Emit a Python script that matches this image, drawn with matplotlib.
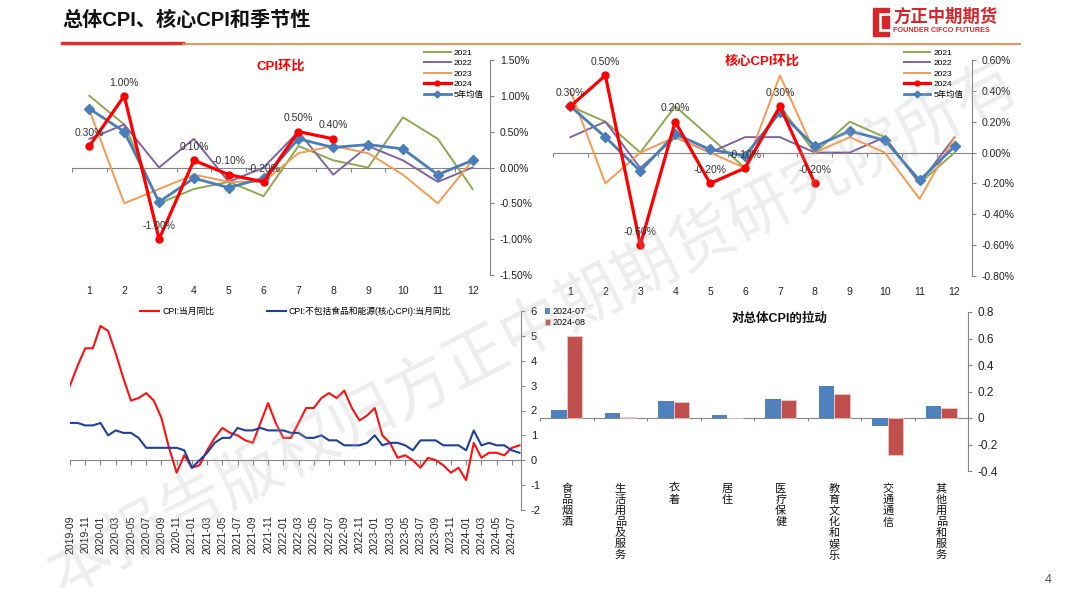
import numpy as np
import matplotlib
matplotlib.use("Agg")
import matplotlib.pyplot as plt
from matplotlib.ticker import FuncFormatter
from matplotlib.patches import Polygon
from matplotlib.lines import Line2D

plt.rcParams["font.family"] = ["Liberation Sans", "Noto Sans CJK SC", "DejaVu Sans"]
plt.rcParams["axes.unicode_minus"] = False

# ---------------- data ----------------
months = list(range(1, 13))

# CPI 环比 (%)
cpi_2021 = [1.0, 0.6, -0.5, -0.3, -0.2, -0.4, 0.3, 0.1, 0.0, 0.7, 0.4, -0.3]
cpi_2022 = [0.4, 0.6, 0.0, 0.4, -0.2, 0.0, 0.5, -0.1, 0.3, 0.1, -0.2, 0.0]
cpi_2023 = [0.8, -0.5, -0.3, -0.1, -0.2, -0.2, 0.2, 0.3, 0.2, -0.1, -0.5, 0.1]
cpi_2024 = [0.3, 1.0, -1.0, 0.1, -0.1, -0.2, 0.5, 0.4]
cpi_avg5 = [0.82, 0.5, -0.48, -0.15, -0.28, -0.15, 0.4, 0.28, 0.32, 0.26, -0.1, 0.1]

# 核心CPI 环比 (%)
core_2021 = [0.3, 0.2, 0.0, 0.3, 0.1, -0.1, 0.3, 0.0, 0.2, 0.1, -0.2, 0.0]
core_2022 = [0.1, 0.2, -0.1, 0.1, 0.0, 0.1, 0.1, 0.0, 0.0, 0.1, -0.2, 0.1]
core_2023 = [0.4, -0.2, 0.0, 0.1, 0.0, -0.1, 0.5, 0.0, 0.1, 0.0, -0.3, 0.1]
core_2024 = [0.3, 0.5, -0.6, 0.2, -0.2, -0.1, 0.3, -0.2]
core_avg5 = [0.3, 0.1, -0.12, 0.12, 0.02, -0.02, 0.26, 0.04, 0.14, 0.08, -0.18, 0.04]

# 当月同比, 2019-09 .. 2024-08
yoy_dates = [f"{y}-{m:02d}" for y in range(2019, 2025) for m in range(1, 13)
             if "2019-09" <= f"{y}-{m:02d}" <= "2024-08"]
cpi_yoy = [3.0, 3.8, 4.5, 4.5,
           5.4, 5.2, 4.3, 3.3, 2.4, 2.5, 2.7, 2.4, 1.7, 0.5, -0.5, 0.2,
           -0.3, -0.2, 0.4, 0.9, 1.3, 1.1, 1.0, 0.8, 0.7, 1.5, 2.3, 1.5,
           0.9, 0.9, 1.5, 2.1, 2.1, 2.5, 2.7, 2.5, 2.8, 2.1, 1.6, 1.8,
           2.1, 1.0, 0.7, 0.1, 0.2, 0.0, -0.3, 0.1, 0.0, -0.2, -0.5, -0.3,
           -0.8, 0.7, 0.1, 0.3, 0.3, 0.2, 0.5, 0.6]
core_yoy = [1.5, 1.5, 1.4, 1.4,
            1.5, 1.0, 1.2, 1.1, 1.1, 0.9, 0.5, 0.5, 0.5, 0.5, 0.5, 0.4,
            -0.3, 0.0, 0.3, 0.7, 0.9, 0.9, 1.3, 1.2, 1.2, 1.3, 1.2, 1.2,
            1.2, 1.1, 1.1, 0.9, 0.9, 1.0, 0.8, 0.8, 0.6, 0.6, 0.6, 0.7,
            1.0, 0.6, 0.7, 0.7, 0.6, 0.4, 0.8, 0.8, 0.8, 0.6, 0.6, 0.6,
            0.4, 1.2, 0.6, 0.7, 0.6, 0.6, 0.4, 0.3]

# 对总体CPI的拉动
pull_cats = ["食品烟酒", "生活用品及服务", "衣着", "居住", "医疗保健",
             "教育文化和娱乐", "交通通信", "其他用品和服务"]
pull_jul = [0.06, 0.035, 0.13, 0.02, 0.145, 0.24, -0.06, 0.09]
pull_aug = [0.62, 0.01, 0.12, 0.0, 0.135, 0.18, -0.28, 0.075]

# ---------------- figure ----------------
W, H = 1080, 608
fig = plt.figure(figsize=(W / 100, H / 100), dpi=100)
fig.patch.set_facecolor("white")


def add_ax(l, t, r, b):
    return fig.add_axes([l / W, 1 - b / H, (r - l) / W, (b - t) / H])


GRID = "#868686"
C21, C22, C23, C24, CAVG = "#8DAA4E", "#7F64A2", "#F79A50", "#FF0000", "#4A7EBB"


def style_right(ax):
    for s in ["left", "top", "bottom"]:
        ax.spines[s].set_visible(False)
    ax.spines["right"].set_color(GRID)
    ax.yaxis.tick_right()
    ax.tick_params(axis="y", colors="#222222", labelsize=7.5, length=3, color=GRID, pad=4)
    ax.tick_params(axis="x", length=0, labelsize=7.5, colors="#222222")


def zero_axis(ax, bounds, ymin, ymax):
    ax.axhline(0, color=GRID, lw=0.8, zorder=1)
    tl = (ymax - ymin) * 0.022
    ax.vlines(bounds, -tl, 0, color=GRID, lw=0.8, zorder=1)


def pct_fmt(v, p):
    v = round(v, 4)
    return f"{v + 0.0:.2f}%"


def season_chart(ax, d21, d22, d23, d24, davg, ymin, ymax, step, title, title_y, leg_anchor):
    ax.plot(months, d21, color=C21, lw=1.4, label="2021")
    ax.plot(months, d22, color=C22, lw=1.4, label="2022")
    ax.plot(months, d23, color=C23, lw=1.4, label="2023")
    ax.plot(months[:len(d24)], d24, color=C24, lw=2.3, marker="o", ms=5, label="2024", zorder=4)
    ax.plot(months, davg, color=CAVG, lw=2.0, marker="D", ms=5, label="5年均值", zorder=3)
    for m, v in zip(months, d24):
        ax.annotate(f"{v:.2f}%", (m, v), xytext=(0, 6), textcoords="offset points",
                    ha="center", va="bottom", fontsize=7.5, color="#333333", zorder=5)
    ax.set_xlim(0.5, 12.5)
    ax.set_ylim(ymin, ymax)
    ax.set_yticks(np.arange(ymin, ymax + step / 2, step))
    ax.yaxis.set_major_formatter(FuncFormatter(pct_fmt))
    ax.set_xticks(months)
    style_right(ax)
    ax.tick_params(axis="x", pad=8)
    zero_axis(ax, np.arange(0.5, 12.6, 1), ymin, ymax)
    ax.text(0.5, title_y, title, transform=ax.transAxes, ha="center", va="center",
            color="#FF0000", fontsize=9.5, fontweight="bold")
    ax.legend(loc="upper right", bbox_to_anchor=leg_anchor, frameon=False, fontsize=6,
              handlelength=3.2, labelspacing=0.3, borderpad=0, handletextpad=0.4,
              markerscale=0.7)


# chart 1: CPI 环比
ax1 = add_ax(72, 60, 490, 275)
season_chart(ax1, cpi_2021, cpi_2022, cpi_2023, cpi_2024, cpi_avg5,
             -1.5, 1.5, 0.5, "CPI环比", 0.97, (0.995, 1.07))

# chart 2: 核心CPI 环比
ax2 = add_ax(553, 60, 972, 276)
season_chart(ax2, core_2021, core_2022, core_2023, core_2024, core_avg5,
             -0.8, 0.6, 0.2, "核心CPI环比", 0.995, (0.99, 1.07))

# chart 3: 当月同比
ax3 = add_ax(70, 311, 521, 510)
x3 = np.arange(len(cpi_yoy))
ax3.plot(x3, cpi_yoy, color="#FF1010", lw=1.5, label="CPI:当月同比")
ax3.plot(x3, core_yoy, color="#1F3F9E", lw=1.5, label="CPI:不包括食品和能源(核心CPI):当月同比")
ax3.set_xlim(0, len(cpi_yoy) - 0.8)
ax3.set_ylim(-2, 6)
ax3.set_yticks(range(-2, 7))
style_right(ax3)
ax3.tick_params(axis="y", labelsize=8)
ax3.set_xticks(x3[::2])
ax3.set_xticklabels(yoy_dates[::2], rotation=90, fontsize=7.5)
ax3.tick_params(axis="x", pad=4)
zero_axis(ax3, x3[::2], -2, 6)
ax3.legend(loc="center", bbox_to_anchor=(0.5, 1.0), ncol=2, frameon=False, fontsize=6.3,
           handlelength=2.2, columnspacing=6, handletextpad=0.3)

# chart 4: 对总体CPI的拉动
ax4 = add_ax(540, 312, 968, 471)
x4 = np.arange(len(pull_cats))
bw = 0.29
ax4.bar(x4 - bw / 2, pull_jul, bw, color="#4F81BD", label="2024-07", zorder=2)
ax4.bar(x4 + bw / 2, pull_aug, bw, color="#C0504D", edgecolor="#F2C4C3", lw=0.6,
        label="2024-08", zorder=2)
ax4.set_xlim(-0.5, len(pull_cats) - 0.5)
ax4.set_ylim(-0.4, 0.8)
ax4.set_yticks(np.arange(-0.4, 0.81, 0.2))
ax4.yaxis.set_major_formatter(FuncFormatter(lambda v, p: f"{round(v, 1) + 0.0:g}"))
style_right(ax4)
ax4.tick_params(axis="y", labelsize=8.5)
ax4.set_xticks(x4)
ax4.set_xticklabels(["\n".join(c) for c in pull_cats], fontsize=8, va="top",
                    linespacing=1.12, color="#111111")
ax4.tick_params(axis="x", pad=9)
zero_axis(ax4, np.arange(-0.5, len(pull_cats)), -0.4, 0.8)
ax4.text(0.56, 0.96, "对总体CPI的拉动", transform=ax4.transAxes, ha="center",
         va="center", fontsize=9, fontweight="bold", color="#111111")
ax4.legend(loc="upper left", bbox_to_anchor=(0.0, 1.06), frameon=False, fontsize=6.5,
           handlelength=0.6, handleheight=0.6, labelspacing=0.25, borderpad=0,
           handletextpad=0.3)

# ---------------- header / decorations ----------------
fig.text(62 / W, 1 - 20 / H, "总体CPI、核心CPI和季节性", fontsize=14.5, fontweight="bold",
         va="center", ha="left", color="#111111")
fig.add_artist(Line2D([62 / W, 183 / W], [1 - 43 / H] * 2, color="#E0302E", lw=2.5))
fig.add_artist(Line2D([183 / W, 1020 / W], [1 - 43.5 / H] * 2, color="#F08A4B", lw=1.3))

# logo
logo = Polygon([(873 / W, 1 - 8 / H), (889 / W, 1 - 8 / H), (889 / W, 1 - 12 / H),
                (878 / W, 1 - 12 / H), (878 / W, 1 - 32 / H), (889 / W, 1 - 32 / H),
                (889 / W, 1 - 36 / H), (873 / W, 1 - 36 / H)],
               closed=True, transform=fig.transFigure, color="#D7262A")
fig.add_artist(logo)
fig.add_artist(Polygon([(882 / W, 1 - 16 / H), (889 / W, 1 - 16 / H), (889 / W, 1 - 28 / H),
                        (882 / W, 1 - 28 / H)], closed=True, transform=fig.transFigure,
                       color="#D7262A"))
fig.text(893 / W, 1 - 16 / H, "方正中期期货", fontsize=12.5, fontweight="bold",
         color="#D7262A", va="center", ha="left")
fig.text(893 / W, 1 - 30 / H, "FOUNDER CIFCO FUTURES", fontsize=5.2, fontweight="bold",
         color="#D7262A", va="center", ha="left")

fig.text(1048 / W, 1 - 580 / H, "4", fontsize=9, color="#555555", ha="center", va="center")

# watermark
fig.text(535 / W, 1 - 330 / H, "本报告版权归方正中期期货研究院所有", fontsize=46,
         color="#B0B0B0", alpha=0.22, rotation=27.5, ha="center", va="center",
         rotation_mode="anchor", zorder=10)

fig.savefig("out.png", dpi=100)
